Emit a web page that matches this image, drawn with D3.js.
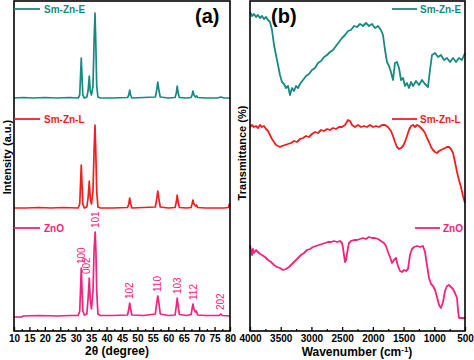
<!DOCTYPE html>
<html><head><meta charset="utf-8">
<script src="https://cdn.jsdelivr.net/npm/d3@7"></script>
<style>body{margin:0;background:#fff}svg{display:block;font-family:"Liberation Sans",Arial,sans-serif}</style>
</head><body><svg id="c" width="474" height="360"></svg>
<script>
// ---------- DATA ----------
const seriesNames = ["Sm-Zn-E", "Sm-Zn-L", "ZnO"];
const seriesColors = ["#178a80", "#f01e1e", "#f2237e"];
const xrdTicks = [10,15,20,25,30,35,40,45,50,55,60,65,70,75,80];
const ftirTicks = [4000,3500,3000,2500,2000,1500,1000,500];

// XRD: [2theta (deg), intensity (a.u., stacked)]
const xrdE = [[10,233],[13,233.5],[16,233],[20,233.5],[24,233],[28,233.5],[30.8,233],[31.3,236],[31.6,258],[31.8,273],[32.0,258],[32.3,236],[32.8,233],[33.6,234],[34.0,240],[34.4,255],[34.7,240],[35.1,236],[35.6,245],[35.95,290],[36.25,318],[36.5,290],[36.8,245],[37.2,234],[38,233],[42,233],[46.8,233.5],[47.2,236],[47.5,241],[47.8,236],[48.2,233],[52,233.5],[55.8,234],[56.2,240],[56.6,249],[57.0,240],[57.4,234],[60,233],[62.2,233.5],[62.6,238],[62.9,245],[63.2,238],[63.6,233.5],[66,233],[67.4,233.5],[67.7,236],[68,240],[68.3,236],[68.8,234],[69.2,235],[69.6,233.5],[72,233],[76,233],[77,234],[78,233],[80,233]];
const xrdL = [[10,123],[14,123],[18,123.5],[22,123],[26,123.5],[30.8,123],[31.3,127],[31.6,150],[31.8,166],[32.0,150],[32.3,127],[32.8,123],[33.6,124],[34.0,133],[34.4,150],[34.7,133],[35.1,127],[35.6,140],[35.95,180],[36.25,206],[36.5,180],[36.8,140],[37.2,124],[38,123],[42,123],[46.8,123.5],[47.2,127],[47.5,133],[47.8,127],[48.2,123],[52,123.5],[55.8,124],[56.2,131],[56.6,140],[57.0,131],[57.4,124],[60,123],[62.2,123.5],[62.6,129],[62.9,136],[63.2,129],[63.6,123.5],[66,123],[67.4,123.5],[67.7,127],[68,131],[68.3,127],[68.8,125],[69.1,126],[69.5,123.5],[72,123],[76,123],[78,123],[79.5,123.5],[79.8,127],[80,124]];
const xrdZ = [[10,14],[12.5,14],[13,15],[18,15.5],[24,15],[28,15.5],[30.8,15.5],[31.3,20],[31.6,45],[31.8,63],[32.0,45],[32.3,20],[32.8,16],[33.6,17],[34.0,32],[34.4,53],[34.7,32],[35.1,22],[35.6,40],[35.95,80],[36.3,99],[36.55,80],[36.8,40],[37.2,17],[38,15.5],[42,15.5],[46.8,16],[47.2,22],[47.5,28],[47.8,22],[48.2,16],[52,15.5],[55.8,17],[56.2,27],[56.6,35],[57.0,27],[57.4,17],[60,15.5],[62.2,16],[62.6,25],[62.9,33],[63.2,25],[63.6,16.5],[66,15.5],[67.4,16.5],[67.7,22],[68,27],[68.3,22],[68.8,19],[69.1,20],[69.5,16],[72,15.5],[76.5,15.5],[77,17],[77.5,15.5],[80,15]];

// hkl labels for ZnO
const hklLabels = ["100","002","101","102","110","103","112","202"];
const hklTheta  = [31.8, 33.5, 36.4, 47.5, 56.6, 62.9, 68.0, 76.8];
const hklBase   = [63, 53, 99, 28, 35, 33, 27, 17];

// FTIR: [wavenumber (cm-1), transmittance (%, stacked)]
const ftirE = [[4000,319],[3967,315],[3935,317],[3902,314],[3870,316],[3837,313],[3805,315],[3772,312],[3739,314],[3707,311],[3674,309],[3642,301],[3609,286],[3577,276],[3544,266],[3512,256],[3479,249],[3446,247],[3414,243],[3381,245],[3349,236],[3316,243],[3284,240],[3251,245],[3218,243],[3186,247],[3137,251],[3088,255],[3040,257],[2991,261],[2942,263],[2893,268],[2844,270],[2795,274],[2746,276],[2698,279],[2649,281],[2600,285],[2551,289],[2502,293],[2453,296],[2405,300],[2356,301],[2307,305],[2258,304],[2209,307],[2160,305],[2112,308],[2063,305],[2014,307],[1965,303],[1916,305],[1868,301],[1835,296],[1802,281],[1770,269],[1737,265],[1705,259],[1672,251],[1640,268],[1607,269],[1574,263],[1542,251],[1509,253],[1477,245],[1444,248],[1412,243],[1379,249],[1346,245],[1298,250],[1249,246],[1200,251],[1151,247],[1102,244],[1070,261],[1037,276],[988,278],[939,274],[891,276],[842,271],[793,273],[744,269],[695,273],[646,269],[598,273],[549,271],[500,278]];
const ftirL = [[4000,204],[3967,206],[3935,204],[3902,205],[3870,203],[3837,206],[3805,204],[3772,205],[3739,202],[3707,200],[3674,196],[3642,192],[3609,189],[3577,186],[3544,185],[3512,184],[3479,185],[3430,186],[3381,187],[3333,188],[3284,190],[3235,189],[3186,192],[3137,193],[3088,195],[3040,194],[2991,197],[2942,199],[2893,198],[2844,201],[2795,200],[2746,202],[2698,201],[2649,203],[2600,202],[2551,204],[2502,204],[2453,206],[2405,211],[2372,210],[2340,206],[2291,204],[2242,206],[2193,204],[2144,205],[2095,204],[2047,206],[1998,204],[1949,205],[1900,204],[1851,206],[1802,206],[1753,204],[1705,200],[1672,195],[1640,189],[1607,184],[1574,182],[1542,183],[1509,185],[1477,189],[1444,195],[1412,201],[1379,205],[1346,206],[1314,204],[1281,206],[1249,205],[1216,203],[1184,201],[1151,198],[1119,193],[1086,189],[1053,184],[1021,181],[988,179],[956,178],[923,180],[891,181],[858,182],[826,183],[793,184],[760,184],[728,182],[695,178],[663,169],[630,159],[598,151],[565,144],[533,135],[500,128]];
const ftirZ = [[4000,86],[3984,81],[3967,76],[3951,82],[3935,78],[3902,81],[3870,79],[3837,77],[3805,76],[3756,74],[3707,71],[3658,69],[3609,66],[3560,64],[3512,63],[3463,61],[3414,62],[3365,64],[3316,67],[3267,70],[3218,73],[3170,76],[3121,78],[3072,81],[3023,82],[2974,84],[2926,85],[2877,86],[2828,87],[2779,88],[2730,89],[2681,89],[2632,90],[2584,89],[2535,90],[2502,88],[2486,83],[2470,76],[2453,69],[2437,71],[2421,77],[2405,83],[2388,88],[2356,90],[2307,91],[2258,91],[2209,92],[2160,93],[2112,92],[2063,94],[2014,93],[1965,93],[1916,92],[1868,90],[1819,88],[1786,85],[1753,79],[1721,74],[1688,68],[1656,71],[1623,73],[1591,65],[1558,60],[1526,59],[1493,61],[1460,60],[1428,62],[1395,76],[1363,82],[1330,84],[1281,85],[1233,84],[1184,85],[1151,79],[1119,66],[1086,53],[1053,47],[1021,45],[988,41],[956,34],[923,26],[891,23],[858,29],[826,40],[793,45],[760,46],[728,44],[695,42],[663,38],[630,33],[614,21],[598,13],[549,13],[500,13]];

// ---------- DRAW ----------
const svg = d3.select("#c");
const yTop = 1, yBot = 331;
const xA = d3.scaleLinear().domain([10,80]).range([14,230]);
const xB = d3.scaleLinear().domain([4000,500]).range([250,465]);
const y = d3.scaleLinear().domain([0,330]).range([yBot, yTop]);

function panel(x, ticks, minorStep, series, strokeW){
  const g = svg.append("g");
  const line = d3.line().x(d=>x(d[0])).y(d=>y(d[1]));
  series.forEach((s,i)=>{
    g.append("path").datum(s).attr("d", line).attr("fill","none")
      .attr("stroke", seriesColors[i]).attr("stroke-width", strokeW).attr("stroke-linejoin","round");
  });
  const [d0,d1] = x.domain();
  const minors = d3.range(Math.min(d0,d1), Math.max(d0,d1)+0.001, minorStep).filter(v=>!ticks.includes(v));
  const ax = g.append("g").attr("transform",`translate(0,${yBot})`)
    .call(d3.axisBottom(x).tickValues(ticks).tickFormat(d3.format("d")).tickSizeInner(-4).tickSizeOuter(0).tickPadding(4));
  ax.select(".domain").remove();
  ax.selectAll("line").attr("stroke","#000").attr("stroke-width",1.3);
  ax.selectAll("text").attr("font-size",10).attr("font-weight","bold").attr("fill","#000");
  const mx = g.append("g").attr("transform",`translate(0,${yBot})`)
    .call(d3.axisBottom(x).tickValues(minors).tickSizeInner(-2).tickSizeOuter(0).tickFormat(""));
  mx.select(".domain").remove();
  mx.selectAll("line").attr("stroke","#000").attr("stroke-width",1.2);
  const r = x.range();
  g.append("rect").attr("x",Math.min(...r)).attr("y",yTop).attr("width",Math.abs(r[1]-r[0])).attr("height",yBot-yTop)
    .attr("fill","none").attr("stroke","#000").attr("stroke-width",1.6);
  return g;
}

const gA = panel(xA, xrdTicks, 2.5, [xrdE,xrdL,xrdZ], 1.7);
const gB = panel(xB, ftirTicks, 250, [ftirE,ftirL,ftirZ], 1.8);

// hkl labels
hklLabels.forEach((t,i)=>{
  gA.append("text").attr("transform",`translate(${xA(hklTheta[i])},${y(hklBase[i])-4}) rotate(-90)`)
    .attr("dy","0.36em").attr("font-size",10).attr("fill",seriesColors[2]).text(t);
});

// legends
const legA = [[14,40,44,9],[14,40,44,119],[14,40,44,228]];
seriesNames.forEach((n,i)=>{
  const [x1,x2,tx,ty] = legA[i];
  gA.append("line").attr("x1",x1).attr("x2",x2).attr("y1",ty).attr("y2",ty).attr("stroke",seriesColors[i]).attr("stroke-width",1.8);
  gA.append("text").attr("x",tx).attr("y",ty).attr("dy","0.35em").attr("font-size",10).attr("font-weight","bold").attr("fill",seriesColors[i]).text(n);
});
const legB = [[392,417,420,9],[392,417,420,119],[415,440,443,228]];
seriesNames.forEach((n,i)=>{
  const [x1,x2,tx,ty] = legB[i];
  gB.append("line").attr("x1",x1).attr("x2",x2).attr("y1",ty).attr("y2",ty).attr("stroke",seriesColors[i]).attr("stroke-width",1.8);
  gB.append("text").attr("x",tx).attr("y",ty).attr("dy","0.35em").attr("font-size",10).attr("font-weight","bold").attr("fill",seriesColors[i]).text(n);
});

// panel letters
svg.append("text").attr("x",195).attr("y",23).attr("font-size",20).attr("font-weight","bold").text("(a)");
svg.append("text").attr("x",271).attr("y",23).attr("font-size",20).attr("font-weight","bold").text("(b)");

// axis titles
svg.append("text").attr("x",117).attr("y",355).attr("text-anchor","middle").attr("font-size",12).attr("font-weight","bold").text("2θ (degree)");
const wt = svg.append("text").attr("x",357).attr("y",356).attr("text-anchor","middle").attr("font-size",12).attr("font-weight","bold");
wt.append("tspan").text("Wavenumber (cm");
wt.append("tspan").attr("font-size",8).attr("dy",-4).text("-1");
wt.append("tspan").attr("dy",4).text(")");
svg.append("text").attr("transform","translate(11,157) rotate(-90)").attr("text-anchor","middle").attr("font-size",11).attr("font-weight","bold").text("Intensity (a.u.)");
svg.append("text").attr("transform","translate(246,153) rotate(-90)").attr("text-anchor","middle").attr("font-size",11).attr("font-weight","bold").text("Transmittance (%)");
</script></body></html>
